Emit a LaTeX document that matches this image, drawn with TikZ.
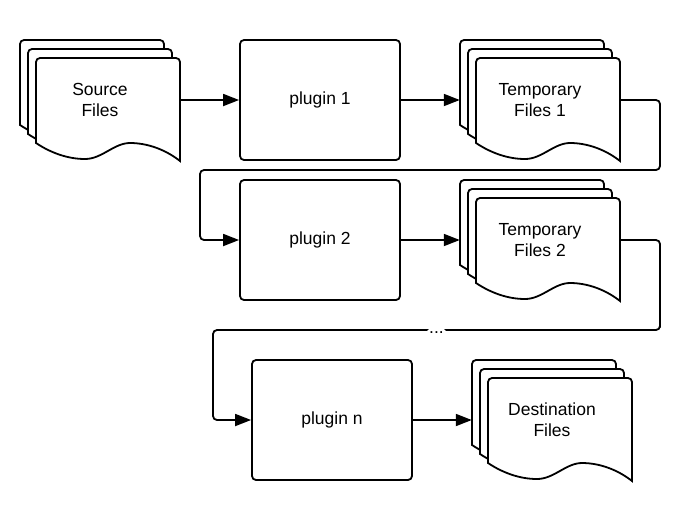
\documentclass[tikz,border=0pt]{standalone}
\usepackage{fontspec}
\setmainfont{Liberation Sans}
\usetikzlibrary{arrows.meta}

\tikzset{
    flow/.style={draw, line width=1.8pt, -{Triangle[length=16pt,width=12pt]}, rounded corners=4pt},
    plugin/.style={draw, line width=1.8pt, rounded corners=4pt, minimum width=160pt, minimum height=120pt, font=\fontsize{17.5}{21}\selectfont},
    sheet/.style={draw, fill=white, line width=1.8pt},
    stack/.style={minimum width=160pt, minimum height=121pt, align=center, font=\fontsize{17.5}{21}\selectfont}
}

% stack of three files: name, left x, top y, text
\newcommand{\filestack}[4]{
    \foreach \dx/\dy in {0/0,8/9,16/18}
        \draw[sheet, shift={(#2+\dx,#3+\dy)}] (0,85) [rounded corners=4pt] -- (0,0) -- (144,0) [sharp corners] -- (144,103)
            .. controls (130,92) and (112,85) .. (94,85)
            .. controls (78,85) and (66,101) .. (49,101)
            .. controls (32,101) and (15,95) .. (0,85) -- cycle;
    \node[stack] (#1) at (#2+80,#3+60) {#4};
}

\begin{document}
\begin{tikzpicture}[x=1pt, y=-1pt]
    \fill[white] (0,0) rectangle (700,520);
    \useasboundingbox (0,0) rectangle (700,520);

    \filestack{src}{20}{40}{Source\\Files}
    \node[plugin] (p1) at (320,100) {plugin 1};
    \filestack{tmp1}{460}{40}{Temporary\\Files 1}

    \node[plugin] (p2) at (320,240) {plugin 2};
    \filestack{tmp2}{460}{180}{Temporary\\Files 2}

    \node[plugin] (pn) at (332,420) {plugin n};
    \filestack{dst}{472}{360}{Destination\\Files}

    \draw[flow] (src) -- (p1);
    \draw[flow] (p1) -- (tmp1);
    \draw[flow] (tmp1.east) -- (660,100) |- (200,170) |- (p2.west);
    \draw[flow] (p2) -- (tmp2);
    \draw[flow] (tmp2.east) -- (660,240) |- (660,330) -- node[fill=white, inner sep=2.5pt, anchor=base, yshift=-3pt, font=\fontsize{17.5}{21}\selectfont] {...} (213,330) |- (pn.west);
    \draw[flow] (pn) -- (dst);
\end{tikzpicture}
\end{document}
